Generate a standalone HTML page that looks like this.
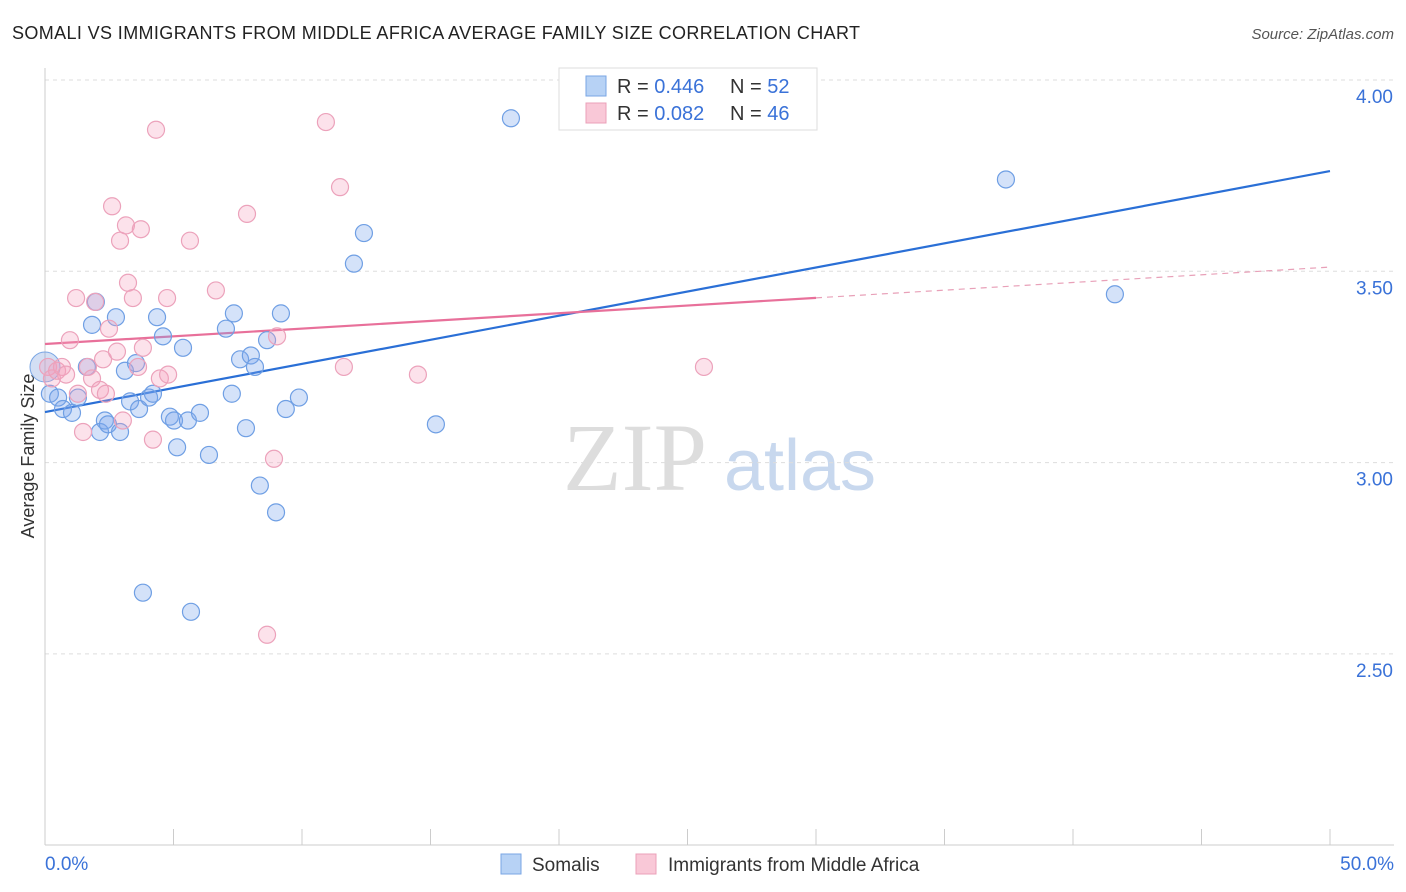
<!DOCTYPE html>
<html><head><meta charset="utf-8"><style>
body{margin:0;background:#fff;font-family:"Liberation Sans",sans-serif;}
svg{display:block}
</style></head><body>
<svg id="chart" width="1406" height="892" xmlns="http://www.w3.org/2000/svg">
<text x="12" y="39" font-size="18" fill="#222" textLength="848">SOMALI VS IMMIGRANTS FROM MIDDLE AFRICA AVERAGE FAMILY SIZE CORRELATION CHART</text>
<text x="1394" y="39" font-size="15" fill="#555" font-style="italic" text-anchor="end">Source: ZipAtlas.com</text>
<text x="34" y="456" font-size="18" fill="#333" text-anchor="middle" transform="rotate(-90 34 456)">Average Family Size</text>
<g><text x="635" y="490" font-size="96" font-family="Liberation Serif,serif" fill="#ddd" text-anchor="middle">ZIP</text><text x="800" y="490" font-size="72" fill="#c8d8ee" text-anchor="middle">atlas</text></g>
<g id="grid"></g><g id="axes"></g><g id="lines"></g><g id="pts"></g>
<g>
<rect x="559" y="68" width="258" height="62" fill="#fff" stroke="#ddd"/>
<rect x="586" y="76" width="20" height="20" fill="#b7d2f5" stroke="#7aa6e4"/>
<rect x="586" y="103" width="20" height="20" fill="#f9c8d7" stroke="#eba0b8"/>
<text x="617" y="93" font-size="20" fill="#333">R = <tspan fill="#3a72d8">0.446</tspan><tspan x="730">N = </tspan><tspan fill="#3a72d8">52</tspan></text>
<text x="617" y="120" font-size="20" fill="#333">R = <tspan fill="#3a72d8">0.082</tspan><tspan x="730">N = </tspan><tspan fill="#3a72d8">46</tspan></text>
</g>
<g>
<rect x="501" y="854" width="20" height="20" fill="#b7d2f5" stroke="#7aa6e4"/>
<text x="532" y="871" font-size="19" fill="#333">Somalis</text>
<rect x="636" y="854" width="20" height="20" fill="#f9c8d7" stroke="#eba0b8"/>
<text x="668" y="871" font-size="19" fill="#333">Immigrants from Middle Africa</text>
</g>
</svg>
<script>
const yTicks=[4.0,3.5,3.0,2.5];
const yTickLabels=["4.00","3.50","3.00","2.50"];
const xTicks=[0,5,10,15,20,25,30,35,40,45,50];
const blueX=[0.19,0.51,0.70,1.05,1.28,1.63,1.83,1.98,2.14,2.33,2.45,2.76,2.92,3.11,3.31,3.54,3.66,3.81,4.05,4.20,4.36,4.59,4.86,5.02,5.14,5.37,5.56,5.68,6.03,6.38,7.04,7.27,7.35,7.59,7.82,8.01,8.17,8.36,8.64,8.99,9.18,9.37,9.88,12.02,12.41,15.21,18.13,37.39,41.63];
const blueY=[3.18,3.17,3.14,3.13,3.17,3.25,3.36,3.42,3.08,3.11,3.10,3.38,3.08,3.24,3.16,3.26,3.14,2.66,3.17,3.18,3.38,3.33,3.12,3.11,3.04,3.30,3.11,2.61,3.13,3.02,3.35,3.18,3.39,3.27,3.09,3.28,3.25,2.94,3.32,2.87,3.39,3.14,3.17,3.52,3.60,3.10,3.90,3.74,3.44];
const pinkX=[0.12,0.27,0.47,0.66,0.82,0.97,1.21,1.28,1.48,1.67,1.83,1.95,2.14,2.26,2.37,2.49,2.61,2.80,2.92,3.03,3.15,3.23,3.42,3.62,3.73,3.81,4.20,4.32,4.47,4.75,4.79,5.64,6.65,7.86,8.64,8.91,9.03,10.93,11.48,11.63,14.51,25.64];
const pinkY=[3.25,3.22,3.24,3.25,3.23,3.32,3.43,3.18,3.08,3.25,3.22,3.42,3.19,3.27,3.18,3.35,3.67,3.29,3.58,3.11,3.62,3.47,3.43,3.25,3.61,3.30,3.06,3.87,3.22,3.43,3.23,3.58,3.45,3.65,2.55,3.01,3.33,3.89,3.72,3.25,3.23,3.25];
const blueTrend=[3.132,3.762];
const pinkTrend=[3.310,3.511];
const pinkSolidEnd=30;
const NS="http://www.w3.org/2000/svg";
const X=v=>45+v/50*1285, Y=v=>80+(4-v)/0.5*191.3;
function mk(t,a,p){const e=document.createElementNS(NS,t);for(const k in a)e.setAttribute(k,a[k]);document.getElementById(p).appendChild(e);return e;}
yTicks.forEach((t,i)=>{
 const g=mk('line',{x1:45,x2:1394,y1:Y(t),y2:Y(t),stroke:'#ddd','stroke-dasharray':'4,4'},'grid');
 
 
 const l=mk('text',{x:1393,y:Y(t)+23,'font-size':19,fill:'#3a72d8','text-anchor':'end'},'axes');
 l.textContent=yTickLabels[i];
 
 
});
const ya=mk('line',{x1:45,x2:45,y1:68,y2:845,stroke:'#ccc'},'axes');


const xa=mk('line',{x1:45,x2:1394,y1:845,y2:845,stroke:'#ccc'},'axes');


xTicks.forEach(t=>{const k=mk('line',{x1:X(t),x2:X(t),y1:829,y2:845,stroke:'#ccc'},'axes');
 
 });
const x0=mk('text',{x:45,y:870,'font-size':19,fill:'#3a72d8'},'axes');x0.textContent='0.0%';


const x1=mk('text',{x:1394,y:870,'font-size':19,fill:'#3a72d8','text-anchor':'end'},'axes');x1.textContent='50.0%';


const bb=mk('circle',{cx:X(0),cy:Y(3.25),r:15,fill:'rgba(110,150,220,0.3)',stroke:'#7aa6e4'},'pts');


blueX.forEach((v,i)=>{const c=mk('circle',{cx:X(v),cy:Y(blueY[i]),r:8.5,fill:'rgba(120,165,235,0.32)',stroke:'#6f9fe4','stroke-width':1.2},'pts');
 
 });
pinkX.forEach((v,i)=>{const c=mk('circle',{cx:X(v),cy:Y(pinkY[i]),r:8.5,fill:'rgba(245,160,190,0.3)',stroke:'#eca2bb','stroke-width':1.2},'pts');
 
 });
const bl=mk('line',{x1:X(0),y1:Y(blueTrend[0]),x2:X(50),y2:Y(blueTrend[1]),stroke:'#2a6fd6','stroke-width':2.2},'lines');


const pm=pinkTrend[0]+(pinkTrend[1]-pinkTrend[0])*pinkSolidEnd/50;
const pl=mk('line',{x1:X(0),y1:Y(pinkTrend[0]),x2:X(pinkSolidEnd),y2:Y(pm),stroke:'#e8709a','stroke-width':2.2},'lines');


const pd=mk('line',{x1:X(pinkSolidEnd),y1:Y(pm),x2:X(50),y2:Y(pinkTrend[1]),stroke:'#e8a0b8','stroke-width':1.2,'stroke-dasharray':'6,5'},'lines');


</script>
</body></html>
